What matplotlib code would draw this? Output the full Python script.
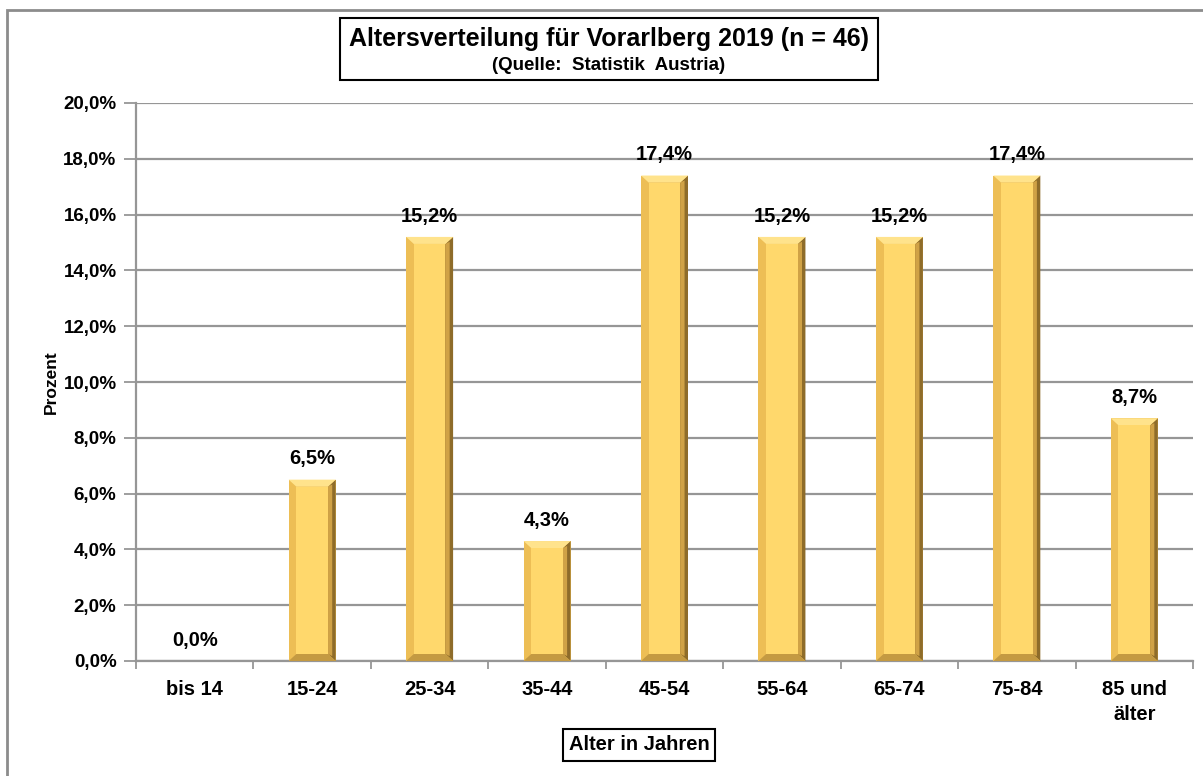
# Altersverteilung Vorarlberg 2019 - bar chart with bevelled gold bars

import matplotlib
matplotlib.use('Agg')
import matplotlib.pyplot as plt
from matplotlib.patches import Polygon, Rectangle
from matplotlib.ticker import FuncFormatter, FixedLocator

categories = ['bis 14', '15-24', '25-34', '35-44', '45-54', '55-64', '65-74', '75-84', '85 und\nälter']
percent = [0.0, 6.5, 15.2, 4.3, 17.4, 15.2, 15.2, 17.4, 8.7]
y_ticks = [0, 2, 4, 6, 8, 10, 12, 14, 16, 18, 20]

title = 'Altersverteilung für Vorarlberg 2019 (n = 46)'
subtitle = '(Quelle:  Statistik  Austria)'
x_label = 'Alter in Jahren'
y_label = 'Prozent'

plt.rcParams['font.family'] = ['Liberation Sans', 'DejaVu Sans']
plt.rcParams['font.weight'] = 'bold'
narrow = ['Liberation Sans Narrow', 'Liberation Sans', 'DejaVu Sans']


def de_pct(v, pos=None):
    return '{:.1f}%'.format(v).replace('.', ',')


def bevel_bar(ax, x, h, w, bx, by):
    '''Draws one bar as a bevelled gold block'''
    if h <= 0:
        return
    x0, x1 = x - w / 2, x + w / 2
    by = min(by, h / 3)
    # full body (left side colour)
    ax.add_patch(Rectangle((x0, 0), w, h, facecolor='#EDBE55', edgecolor='none', zorder=3))
    # right bevel (shadow)
    ax.add_patch(Polygon([(x1, 0), (x1, h), (x1 - bx, h - by), (x1 - bx, by)],
                         facecolor='#8E6C2A', edgecolor='none', zorder=4))
    ax.add_patch(Polygon([(x1 - bx * 0.45, by * 0.7), (x1 - bx * 0.45, h - by * 0.7),
                          (x1 - bx, h - by), (x1 - bx, by)],
                         facecolor='#D0A246', edgecolor='none', zorder=4))
    # bottom bevel
    ax.add_patch(Polygon([(x0, 0), (x1, 0), (x1 - bx, by), (x0 + bx, by)],
                         facecolor='#C49A42', edgecolor='none', zorder=4))
    # top bevel (highlight)
    ax.add_patch(Polygon([(x0, h), (x1, h), (x1 - bx, h - by), (x0 + bx, h - by)],
                         facecolor='#FFE38C', edgecolor='none', zorder=4))
    # face
    ax.add_patch(Rectangle((x0 + bx, by), w - 2 * bx, h - 2 * by,
                           facecolor='#FFD86C', edgecolor='none', zorder=4))


fig = plt.figure(figsize=(12.03, 7.76), dpi=100)
ax = fig.add_axes([136 / 1203, 1 - 661 / 776, (1193 - 136) / 1203, (661 - 103) / 776])

# outer chart border
fig.patches.append(Rectangle((7 / 1203, -0.1), 1.2, 1.1 - 10 / 776, transform=fig.transFigure,
                             fill=False, edgecolor='#8C8C8C', linewidth=2))

xs = list(range(len(categories)))
bar_w = 0.40
for x, h in zip(xs, percent):
    bevel_bar(ax, x, h, bar_w, 0.065, 0.25)
    ax.text(x, h + 0.4, de_pct(h), ha='center', va='bottom', fontsize=14.5, fontweight='bold', zorder=5)

ax.set_xlim(-0.5, len(categories) - 0.5)
ax.set_ylim(0, 20)
ax.set_yticks(y_ticks)
ax.yaxis.set_major_formatter(FuncFormatter(de_pct))
ax.grid(axis='y', color='#969696', linewidth=1.6, zorder=1)
ax.set_axisbelow(True)

ax.set_xticks(xs)
ax.set_xticklabels(categories, family=narrow, fontsize=14.5, fontweight='bold', linespacing=1.4)
ax.tick_params(axis='x', which='major', length=0, pad=14)
ax.xaxis.set_minor_locator(FixedLocator([i - 0.5 for i in range(len(categories) + 1)]))
ax.tick_params(axis='x', which='minor', length=6, color='#969696', width=1.3)
ax.tick_params(axis='y', length=9, color='#969696', width=1.3, labelsize=13.5, pad=5)
for lab in ax.get_yticklabels():
    lab.set_fontweight('bold')

for side in ['top', 'right']:
    ax.spines[side].set_visible(False)
for side in ['left', 'bottom']:
    ax.spines[side].set_color('#969696')
    ax.spines[side].set_linewidth(1.6)

ax.set_ylabel(y_label, fontsize=12.5, fontweight='bold', labelpad=3)

# title box
fig.patches.append(Rectangle((340 / 1203, 1 - 80 / 776), 538 / 1203, 62 / 776, transform=fig.transFigure,
                             facecolor='white', edgecolor='black', linewidth=1.5))
fig.text(609 / 1203, 1 - 39 / 776, title, ha='center', va='center', fontsize=18, fontweight='bold')
fig.text(609 / 1203, 1 - 65 / 776, subtitle, ha='center', va='center', fontsize=13.5, fontweight='bold')

box = dict(boxstyle='square,pad=0.3', facecolor='white', edgecolor='black', linewidth=1.5)
fig.text(639 / 1203, 1 - 745 / 776, x_label, ha='center', va='center', fontsize=14.5,
         fontweight='bold', family=narrow, bbox=box)

fig.savefig('out.png', dpi=100)
